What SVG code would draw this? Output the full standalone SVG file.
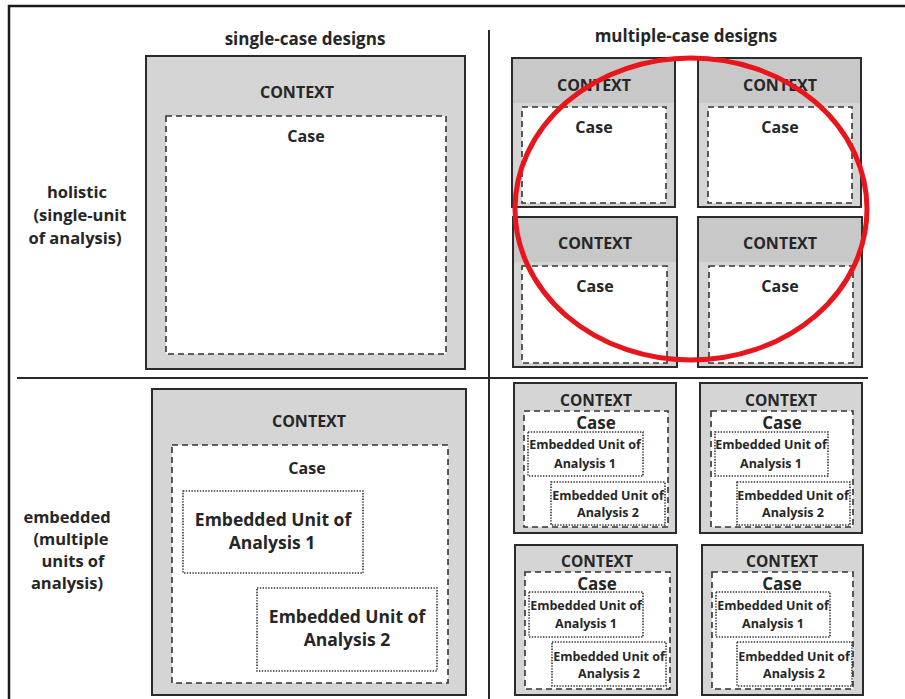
<svg xmlns="http://www.w3.org/2000/svg" width="905" height="699" viewBox="0 0 905 699">
  <style>
    text { font-family: "Open Sans", "DejaVu Sans", sans-serif; font-weight: bold; fill: #262626; text-anchor: middle; }
    .hdr { font-size: 17px; }
    .row { font-size: 16.5px; }
    .ctx { font-size: 16px; }
    .ctx-s { font-size: 15.5px; }
    .case { font-size: 16px; }
    .case-s { font-size: 17px; }
    .unit { font-size: 17.5px; }
    .unit-s { font-size: 12.5px; }
    .frame { fill: none; stroke: #1a1a1a; stroke-width: 2.5; }
    .rule { fill: none; stroke: #2a2a2a; stroke-width: 2; }
    .context { fill: #d5d5d5; stroke: #2b2b2b; stroke-width: 2; }
    .band { fill: #c8c8c8; }
    .caseBox { fill: #ffffff; stroke: #333; stroke-width: 1.6; stroke-dasharray: 6 4; }
    .unitBox { fill: #ffffff; stroke: #333; stroke-width: 1.6; stroke-dasharray: 1.4 1.4; }
    .mark { fill: none; stroke: #e8161c; stroke-width: 5; }
  </style>

  <rect width="905" height="699" fill="#ffffff"/>

  <!-- page frame and quadrant rules -->
  <g id="grid">
    <path class="frame" d="M9,699 V6 H905"/>
    <path class="rule" d="M489,30 V699"/>
    <path class="rule" d="M17,378 H868"/>
  </g>

  <!-- column and row headings -->
  <g id="headings">
    <text class="hdr" x="305" y="45">single-case designs</text>
    <text class="hdr" x="686" y="42">multiple-case designs</text>
    <text class="row" x="77" y="198">holistic</text>
    <text class="row" x="80" y="221">(single-unit</text>
    <text class="row" x="75" y="244">of analysis)</text>
    <text class="row" x="67" y="523">embedded</text>
    <text class="row" x="71" y="545">(multiple</text>
    <text class="row" x="73" y="567">units of</text>
    <text class="row" x="67" y="589">analysis)</text>
  </g>

  <!-- single-case, holistic -->
  <g id="single-holistic">
    <rect class="context" x="146" y="56" width="319" height="313"/>
    <text class="ctx" x="297" y="98">CONTEXT</text>
    <rect class="caseBox" x="166" y="116" width="280" height="238"/>
    <text class="case" x="306" y="142">Case</text>
  </g>

  <!-- multiple-case, holistic -->
  <g id="multi-holistic-1">
    <rect class="context" x="512" y="58" width="163" height="149"/>
    <rect class="band" x="513" y="59" width="161" height="44"/>
    <text class="ctx" x="594" y="91">CONTEXT</text>
    <rect class="caseBox" x="522" y="107" width="144" height="96"/>
    <text class="case" x="594" y="133">Case</text>
  </g>
  <g id="multi-holistic-2">
    <rect class="context" x="698" y="58" width="163" height="149"/>
    <rect class="band" x="699" y="59" width="161" height="44"/>
    <text class="ctx" x="780" y="91">CONTEXT</text>
    <rect class="caseBox" x="708" y="107" width="144" height="96"/>
    <text class="case" x="780" y="133">Case</text>
  </g>
  <g id="multi-holistic-3">
    <rect class="context" x="513" y="217" width="164" height="150"/>
    <rect class="band" x="514" y="218" width="162" height="44"/>
    <text class="ctx" x="595" y="249">CONTEXT</text>
    <rect class="caseBox" x="522" y="266" width="145" height="97"/>
    <text class="case" x="595" y="292">Case</text>
  </g>
  <g id="multi-holistic-4">
    <rect class="context" x="698" y="217" width="164" height="150"/>
    <rect class="band" x="699" y="218" width="162" height="44"/>
    <text class="ctx" x="780" y="249">CONTEXT</text>
    <rect class="caseBox" x="709" y="266" width="144" height="97"/>
    <text class="case" x="780" y="292">Case</text>
  </g>

  <!-- single-case, embedded -->
  <g id="single-embedded">
    <rect class="context" x="152" y="389" width="314" height="306"/>
    <text class="ctx" x="309" y="427">CONTEXT</text>
    <rect class="caseBox" x="172" y="445" width="276" height="238"/>
    <text class="case" x="307" y="474">Case</text>
    <rect class="unitBox" x="183" y="491" width="180" height="82"/>
    <text class="unit" x="273" y="526">Embedded Unit of</text>
    <text class="unit" x="272" y="549">Analysis 1</text>
    <rect class="unitBox" x="257" y="588" width="180" height="83"/>
    <text class="unit" x="347" y="623">Embedded Unit of</text>
    <text class="unit" x="347" y="646">Analysis 2</text>
  </g>

  <!-- multiple-case, embedded -->
  <g id="multi-embedded-1">
    <rect class="context" x="514" y="383" width="162" height="150"/>
    <text class="ctx-s" x="596" y="406">CONTEXT</text>
    <rect class="caseBox" x="524" y="411" width="144" height="116"/>
    <text class="case-s" x="596" y="429">Case</text>
    <rect class="unitBox" x="528" y="432" width="115" height="44"/>
    <text class="unit-s" x="585" y="449">Embedded Unit of</text>
    <text class="unit-s" x="585" y="468">Analysis 1</text>
    <rect class="unitBox" x="551" y="482" width="114" height="43"/>
    <text class="unit-s" x="608" y="500">Embedded Unit of</text>
    <text class="unit-s" x="608" y="517">Analysis 2</text>
  </g>
  <g id="multi-embedded-2">
    <rect class="context" x="700" y="383" width="162" height="150"/>
    <text class="ctx-s" x="781" y="406">CONTEXT</text>
    <rect class="caseBox" x="711" y="411" width="142" height="116"/>
    <text class="case-s" x="782" y="429">Case</text>
    <rect class="unitBox" x="715" y="432" width="113" height="44"/>
    <text class="unit-s" x="771" y="449">Embedded Unit of</text>
    <text class="unit-s" x="771" y="468">Analysis 1</text>
    <rect class="unitBox" x="737" y="482" width="113" height="43"/>
    <text class="unit-s" x="793" y="500">Embedded Unit of</text>
    <text class="unit-s" x="793" y="517">Analysis 2</text>
  </g>
  <g id="multi-embedded-3">
    <rect class="context" x="515" y="545" width="162" height="150"/>
    <text class="ctx-s" x="597" y="567">CONTEXT</text>
    <rect class="caseBox" x="525" y="572" width="145" height="117"/>
    <text class="case-s" x="597" y="590">Case</text>
    <rect class="unitBox" x="529" y="592" width="114" height="45"/>
    <text class="unit-s" x="586" y="610">Embedded Unit of</text>
    <text class="unit-s" x="586" y="628">Analysis 1</text>
    <rect class="unitBox" x="552" y="642" width="114" height="44"/>
    <text class="unit-s" x="609" y="661">Embedded Unit of</text>
    <text class="unit-s" x="609" y="678">Analysis 2</text>
  </g>
  <g id="multi-embedded-4">
    <rect class="context" x="702" y="545" width="161" height="150"/>
    <text class="ctx-s" x="782" y="567">CONTEXT</text>
    <rect class="caseBox" x="712" y="572" width="141" height="117"/>
    <text class="case-s" x="782" y="590">Case</text>
    <rect class="unitBox" x="716" y="592" width="114" height="45"/>
    <text class="unit-s" x="773" y="610">Embedded Unit of</text>
    <text class="unit-s" x="773" y="628">Analysis 1</text>
    <rect class="unitBox" x="737" y="642" width="115" height="44"/>
    <text class="unit-s" x="794" y="661">Embedded Unit of</text>
    <text class="unit-s" x="794" y="678">Analysis 2</text>
  </g>

  <!-- highlight ring around the holistic multiple-case block -->
  <g id="highlight">
    <ellipse class="mark" cx="691" cy="209" rx="176" ry="151"/>
  </g>
</svg>
